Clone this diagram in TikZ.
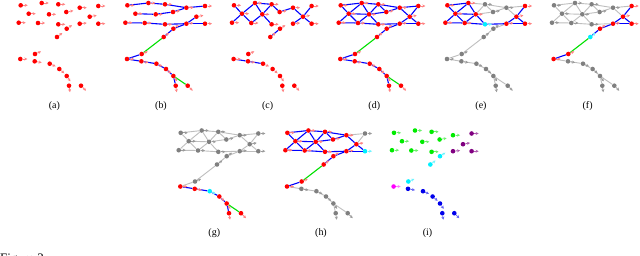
\documentclass[tikz,border=0pt]{standalone}
\usepackage{fontspec}
\setmainfont{Liberation Serif}
\usetikzlibrary{arrows.meta}
\definecolor{nR}{RGB}{255,0,0}
\definecolor{aR}{RGB}{255,130,130}
\definecolor{nG}{RGB}{128,128,128}
\definecolor{aG}{RGB}{155,155,155}
\definecolor{nC}{RGB}{0,240,255}
\definecolor{aC}{RGB}{110,245,255}
\definecolor{nN}{RGB}{0,235,0}
\definecolor{aN}{RGB}{110,240,110}
\definecolor{nP}{RGB}{128,0,128}
\definecolor{aP}{RGB}{175,90,175}
\definecolor{nM}{RGB}{255,0,255}
\definecolor{aM}{RGB}{255,120,255}
\definecolor{nB}{RGB}{0,0,235}
\definecolor{aB}{RGB}{100,100,245}
\definecolor{eBlue}{RGB}{0,0,255}
\definecolor{eGreen}{RGB}{0,225,0}
\definecolor{eGrey}{RGB}{190,190,190}
\newcommand\pcoords{%
  \foreach \ni/\nx/\ny/\nu/\nv in {1/20.7/5.3/7/0, 2/41.7/3/7/0, 3/58.3/4.3/7/0, 4/79.7/7.7/7/0,
    5/98.3/6/7/0, 6/28.7/13.7/7/0, 7/49/14.3/7/0, 8/66.3/12/7/-1.3, 9/89.7/16.7/7/-1.3,
    10/18.7/22.7/7/0, 11/38/23/7/0, 12/58.3/24.3/7/0, 13/79.7/23.7/7/-0.7, 14/98.3/23.7/7/0,
    15/66.7/28.7/5.3/-3.5, 16/57/37/5.3/-4, 17/35/54/6/-2.5, 18/20.3/59/7/0,
    19/34.7/61.3/7/1.3, 20/49.7/63.7/6/2.7, 21/59.3/69/5/4.3, 22/66.7/76/3.7/5.3,
    23/69/85.7/1/6.5, 24/81/85.7/5/5}
  {\path (\nx,\ny) coordinate (p\ni) ++(\nu,\nv) coordinate (t\ni);}}
\newcommand\pnodes[1]{\foreach \ni/\nc in {#1}{\node[dot,fill=n\nc] (\ni) at (p\ni) {};}}
\newcommand\parrows[1]{\foreach \ni/\nc in {#1}{\draw[vel,draw=a\nc] (\ni) -- (t\ni);}}
\newcommand\pedges[2]{\foreach \ea/\eb in {#2}{\draw[#1] (\ea) -- (\eb);}}
\newcommand\allred{1/R,2/R,3/R,4/R,5/R,6/R,7/R,8/R,9/R,10/R,11/R,12/R,13/R,14/R,15/R,16/R,17/R,18/R,19/R,20/R,21/R,22/R,23/R,24/R}
\begin{document}
\begin{tikzpicture}[x=1bp,y=-1bp,
  dot/.style={circle,inner sep=0pt,minimum size=4.6bp,draw=none},
  vel/.style={line width=0.8bp,-{Stealth[length=3bp,width=3bp]}},
  be/.style={draw=eBlue,line width=1.1bp},
  ge/.style={draw=eGreen,line width=1.1bp},
  gr/.style={draw=eGrey,line width=0.9bp},
  lab/.style={font=\fontsize{10}{12}\selectfont,inner sep=0pt}]
\fill[white] (0,0) rectangle (640,255);
\useasboundingbox (0,0) rectangle (640,255);
% (a)
\begin{scope}[name prefix=a-]
  \pcoords
  \foreach \ni/\nc in \allred {\node[dot,fill=n\nc] (\ni) at (p\ni) {};}
  \foreach \ni/\nc in \allred {\draw[vel,draw=a\nc] (\ni) -- (t\ni);}
  \node[lab] (lbl) at (54.3,106) {(a)};
\end{scope}
% (b)
\begin{scope}[shift={(106.7,0)},name prefix=b-]
  \pcoords
  \foreach \ni/\nc in \allred {\node[dot,fill=n\nc] (\ni) at (p\ni) {};}
  \pedges{be}{1/2,2/3,3/4,4/5,6/7,7/8,8/4,10/11,11/12,12/13,13/14,9/13,13/15,15/16,17/18,18/19,19/20,20/21,21/22,22/23}
  \pedges{ge}{16/17,22/24}
  \foreach \ni/\nc in \allred {\draw[vel,draw=a\nc] (\ni) -- (t\ni);}
  \node[lab] (lbl) at (54.3,106) {(b)};
\end{scope}
% (c)
\begin{scope}[shift={(213.3,0)},name prefix=c-]
  \pcoords
  \foreach \ni/\nc in \allred {\node[dot,fill=n\nc] (\ni) at (p\ni) {};}
  \pedges{be}{1/6,2/6,6/10,6/11,2/7,3/7,7/11,7/12,2/3,3/8,8/4,4/9,5/9,9/13,9/14,15/16,18/19,19/20}
  \foreach \ni/\nc in \allred {\draw[vel,draw=a\nc] (\ni) -- (t\ni);}
  \node[lab] (lbl) at (54.3,106) {(c)};
\end{scope}
% (d)
\begin{scope}[shift={(320,0)},name prefix=d-]
  \pcoords
  \foreach \ni/\nc in \allred {\node[dot,fill=n\nc] (\ni) at (p\ni) {};}
  \pedges{be}{1/2,2/3,3/4,4/5,6/7,7/8,8/4,10/11,11/12,12/13,13/14,9/13,1/6,2/6,6/10,6/11,2/7,3/7,7/11,7/12,3/8,4/9,5/9,9/14,13/15,15/16,17/18,18/19,19/20,20/21,21/22,22/23}
  \pedges{ge}{16/17,22/24}
  \foreach \ni/\nc in \allred {\draw[vel,draw=a\nc] (\ni) -- (t\ni);}
  \node[lab] (lbl) at (54.3,106) {(d)};
\end{scope}
% (e)
\begin{scope}[shift={(426.7,0)},name prefix=e-]
  \pcoords
  \pnodes{1/R,2/R,3/G,4/G,5/R,6/R,7/R,8/G,9/R,10/R,11/R,12/C,13/R,14/R,15/G,16/G,17/G,18/G,19/G,20/G,21/G,22/G,23/G,24/G}
  \pedges{gr}{2/3,3/4,4/5,7/8,8/4,3/7,3/8,4/9,13/15,15/16,16/17,17/18,18/19,19/20,20/21,21/22,22/23,22/24}
  \pedges{be}{1/2,1/6,2/6,6/10,6/11,6/7,2/7,7/11,7/12,10/11,11/12,12/13,13/14,9/13,5/9,9/14}
  \parrows{1/R,2/R,3/G,4/G,5/R,6/R,7/R,8/G,9/R,10/R,11/R,12/C,13/R,14/R,15/G,16/G,17/G,18/G,19/G,20/G,21/G,22/G,23/G,24/G}
  \node[lab] (lbl) at (54.3,106) {(e)};
\end{scope}
% (f)
\begin{scope}[shift={(533.3,0)},name prefix=f-]
  \pcoords
  \pnodes{1/G,2/G,3/G,4/G,5/R,6/G,7/G,8/G,9/R,10/G,11/G,12/G,13/R,14/R,15/R,16/C,17/R,18/R,19/G,20/G,21/G,22/G,23/G,24/G}
  \pedges{gr}{1/2,2/3,3/4,4/5,6/7,7/8,8/4,10/11,11/12,12/13,1/6,2/6,6/10,6/11,2/7,3/7,7/11,7/12,3/8,4/9,18/19,19/20,20/21,21/22,22/23,22/24}
  \pedges{be}{5/9,9/13,9/14,13/14,13/15,15/16,17/18}
  \pedges{ge}{16/17}
  \parrows{1/G,2/G,3/G,4/G,5/R,6/G,7/G,8/G,9/R,10/G,11/G,12/G,13/R,14/R,15/R,16/C,17/R,18/R,19/G,20/G,21/G,22/G,23/G,24/G}
  \node[lab] (lbl) at (54.3,106) {(f)};
\end{scope}
% (g)
\begin{scope}[shift={(160,127.5)},name prefix=g-]
  \pcoords
  \pnodes{1/G,2/G,3/G,4/G,5/G,6/G,7/G,8/G,9/G,10/G,11/G,12/G,13/G,14/G,15/G,16/G,17/G,18/R,19/R,20/C,21/R,22/R,23/R,24/R}
  \pedges{gr}{1/2,2/3,3/4,4/5,6/7,7/8,8/4,10/11,11/12,12/13,13/14,9/13,1/6,2/6,6/10,6/11,2/7,3/7,7/11,7/12,3/8,4/9,5/9,9/14,13/15,15/16,16/17,17/18}
  \pedges{be}{18/19,19/20,20/21,21/22,22/23}
  \pedges{ge}{22/24}
  \parrows{1/G,2/G,3/G,4/G,5/G,6/G,7/G,8/G,9/G,10/G,11/G,12/G,13/G,14/G,15/G,16/G,17/G,18/R,19/R,20/C,21/R,22/R,23/R,24/R}
  \node[lab] (lbl) at (54.3,106) {(g)};
\end{scope}
% (h)
\begin{scope}[shift={(266.7,127.5)},name prefix=h-]
  \pcoords
  \pnodes{1/R,2/R,3/R,4/R,5/G,6/R,7/R,8/R,9/R,10/R,11/R,12/R,13/R,14/C,15/R,16/R,17/R,18/R,19/G,20/G,21/G,22/G,23/G,24/G}
  \pedges{gr}{4/5,5/9,18/19,19/20,20/21,21/22,22/23,22/24}
  \pedges{be}{1/2,2/3,3/4,6/7,7/8,8/4,10/11,11/12,12/13,13/14,9/13,1/6,2/6,6/10,6/11,2/7,3/7,7/11,7/12,3/8,4/9,9/14,13/15,15/16,17/18}
  \pedges{ge}{16/17}
  \parrows{1/R,2/R,3/R,4/R,5/G,6/R,7/R,8/R,9/R,10/R,11/R,12/R,13/R,14/C,15/R,16/R,17/R,18/R,19/G,20/G,21/G,22/G,23/G,24/G}
  \node[lab] (lbl) at (54.3,106) {(h)};
\end{scope}
% (i)
\begin{scope}[shift={(373.3,127.5)},name prefix=i-]
  \pcoords
  \pnodes{1/N,2/N,3/N,4/N,5/P,6/N,7/N,8/N,9/P,10/N,11/N,12/N,13/P,14/P,15/C,16/C,17/C,18/M,19/B,20/B,21/B,22/B,23/B,24/B}
  \parrows{1/N,2/N,3/N,4/N,5/P,6/N,7/N,8/N,9/P,10/N,11/N,12/N,13/P,14/P,15/C,16/C,17/C,18/M,19/B,20/B,21/B,22/B,23/B,24/B}
  \node[lab] (lbl) at (54.3,106) {(i)};
\end{scope}
\node[anchor=base west,inner sep=0pt,font=\fontsize{13}{15}\selectfont] (cap) at (0,262) {Figure 3};
\end{tikzpicture}
\end{document}
